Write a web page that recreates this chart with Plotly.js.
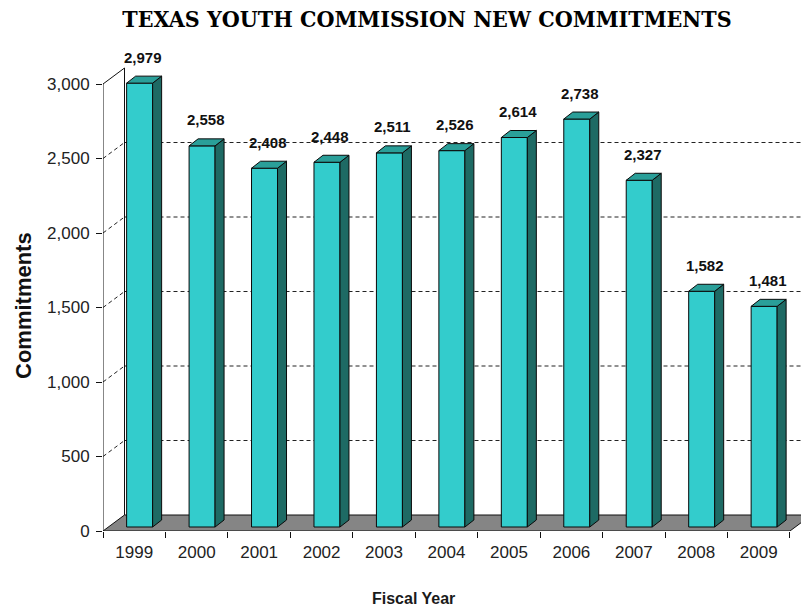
<!DOCTYPE html>
<html>
<head>
<meta charset="utf-8">
<script src="https://cdn.plot.ly/plotly-3.0.1.min.js"></script>
<style>html,body{margin:0;padding:0;background:#fff;}#chart{width:801px;height:609px;}</style>
</head>
<body>
<div id="chart"></div>
<script>
// ---- data ----
const years = ['1999','2000','2001','2002','2003','2004','2005','2006','2007','2008','2009'];
const commitments = [2979, 2558, 2408, 2448, 2511, 2526, 2614, 2738, 2327, 1582, 1481];
const yTickValues = [0, 500, 1000, 1500, 2000, 2500, 3000];
const gridValues = [500, 1000, 1500, 2000, 2500];
const axisMax = 3000;

// ---- geometry (pixel based, converted to data units) ----
const W = 62.45;        // px per category
const K = 0.149;        // px per value unit
const plotLeft = 103, plotRight = 801, plotTop = 40, plotBottom = 531;
const xMin = -0.5, xMax = -0.5 + (plotRight - plotLeft) / W;
const yMaxRange = (plotBottom - plotTop) / K;
const bx = 21.5 / W, by = 16 / K;     // back wall offset
const fx = 5.4 / W,  fy = 4 / K;      // bar front-face offset
const hw = 13 / W;                    // bar half width
const dx = 9 / W,    dy = 7 / K;      // bar depth

const n = years.length;
const idx = years.map((_, i) => i);
const boundaries = [];
for (let i = 0; i <= n; i++) boundaries.push(i - 0.5);

// front faces (bars)
const frontFaces = {
  type: 'bar', x: idx.map(i => i + fx), y: commitments, base: commitments.map(() => fy),
  width: 2 * hw, marker: {color: '#33CCCC', line: {color: '#0a0a0a', width: 1}},
  hoverinfo: 'skip', showlegend: false
};
// side and top faces
const sx = [], sy = [], tx = [], ty = [];
idx.forEach(i => {
  const l = i + fx - hw, r = i + fx + hw, b = fy, t = commitments[i] + fy;
  sx.push(r, r, r + dx, r + dx, r, null);
  sy.push(b, t, t + dy, b + dy, b, null);
  tx.push(l, r, r + dx, l + dx, l, null);
  ty.push(t, t, t + dy, t + dy, t, null);
});
const sideFaces = {type: 'scatter', mode: 'lines', x: sx, y: sy, fill: 'toself', fillcolor: '#1E6A64',
  line: {color: '#0a0a0a', width: 1}, hoverinfo: 'skip', showlegend: false, connectgaps: false};
const topFaces = {type: 'scatter', mode: 'lines', x: tx, y: ty, fill: 'toself', fillcolor: '#2A9F99',
  line: {color: '#0a0a0a', width: 1}, hoverinfo: 'skip', showlegend: false, connectgaps: false};
// invisible trace for boundary ticks axis
const tickHolder = {type: 'scatter', x: [xMin], y: [0], xaxis: 'x2', mode: 'markers',
  marker: {opacity: 0}, hoverinfo: 'skip', showlegend: false};

const shapes = [];
// floor
shapes.push({type: 'path', xref: 'x', yref: 'y', layer: 'below',
  path: `M ${xMin},0 L ${n - 0.5},0 L ${n - 0.5 + bx},${by} L ${xMin + bx},${by} Z`,
  fillcolor: '#858585', line: {color: '#111', width: 1}});
// gridlines on back wall + left wall
gridValues.forEach(g => {
  shapes.push({type: 'line', xref: 'x', yref: 'y', layer: 'below', x0: xMin + bx, x1: xMax + 1,
    y0: g + by, y1: g + by, line: {color: '#222', width: 1, dash: '4px,3px'}});
  shapes.push({type: 'line', xref: 'x', yref: 'y', layer: 'below', x0: xMin, x1: xMin + bx,
    y0: g, y1: g + by, line: {color: '#222', width: 1, dash: '4px,3px'}});
});
// back wall vertical, front axis vertical, top diagonal
shapes.push({type: 'line', xref: 'x', yref: 'y', layer: 'below', x0: xMin + bx, x1: xMin + bx,
  y0: by, y1: axisMax + by, line: {color: '#111', width: 1}});
shapes.push({type: 'line', xref: 'x', yref: 'y', layer: 'below', x0: xMin, x1: xMin,
  y0: 0, y1: axisMax, line: {color: '#111', width: 1}});
shapes.push({type: 'line', xref: 'x', yref: 'y', layer: 'below', x0: xMin, x1: xMin + bx,
  y0: axisMax, y1: axisMax + by, line: {color: '#111', width: 1}});

const annotations = idx.map(i => ({
  x: i + fx + 3.5 / W, y: commitments[i], xref: 'x', yref: 'y', yshift: 30,
  text: '<b>' + commitments[i].toLocaleString('en-US') + '</b>', showarrow: false,
  font: {family: 'Liberation Sans, Arial, sans-serif', size: 15, color: '#111'},
  xanchor: 'center', yanchor: 'middle'
}));
annotations.push({xref: 'paper', yref: 'paper', x: (24 - plotLeft) / (plotRight - plotLeft),
  y: (plotBottom - 306) / (plotBottom - plotTop), text: '<b>Commitments</b>', textangle: -90,
  showarrow: false, xanchor: 'center', yanchor: 'middle',
  font: {family: 'Liberation Sans, Arial, sans-serif', size: 22, color: '#111'}});
annotations.push({xref: 'paper', yref: 'paper', x: (413 - plotLeft) / (plotRight - plotLeft),
  y: (plotBottom - 598) / (plotBottom - plotTop), text: '<b>Fiscal Year</b>',
  showarrow: false, xanchor: 'center', yanchor: 'middle',
  font: {family: 'Liberation Sans, Arial, sans-serif', size: 16, color: '#1a1a1a'}});

const layout = {
  width: 801, height: 609,
  margin: {l: plotLeft, r: 801 - plotRight, t: plotTop, b: 609 - plotBottom, pad: 0},
  paper_bgcolor: '#fff', plot_bgcolor: '#fff',
  title: {text: '<b>TEXAS YOUTH COMMISSION NEW COMMITMENTS</b>', xref: 'container', yref: 'container',
    x: 427 / 801, y: 1 - 19 / 609, xanchor: 'center', yanchor: 'middle',
    font: {family: 'DejaVu Serif Condensed, DejaVu Serif, serif', size: 23, color: '#000'}},
  showlegend: false,
  xaxis: {range: [xMin, xMax], tickvals: idx, ticktext: years, ticks: 'outside', ticklen: 6,
    tickcolor: 'rgba(0,0,0,0)', showgrid: false, zeroline: false, showline: false, fixedrange: true,
    tickfont: {family: 'Liberation Sans, Arial, sans-serif', size: 17, color: '#222'}},
  xaxis2: {range: [xMin, xMax], overlaying: 'x', side: 'bottom', anchor: 'y',
    tickvals: boundaries, showticklabels: false,
    ticks: 'outside', ticklen: 6, tickcolor: '#111', tickwidth: 1, showgrid: false, zeroline: false, showline: false},
  yaxis: {range: [0, yMaxRange], tickvals: yTickValues, tickformat: ',d', ticks: 'outside', ticklen: 6,
    tickcolor: '#111', showgrid: false, zeroline: false, showline: false, ticklabelstandoff: 3,
    tickfont: {family: 'Liberation Sans, Arial, sans-serif', size: 17, color: '#222'}},
  shapes: shapes, annotations: annotations, bargap: 0
};

Plotly.newPlot('chart', [frontFaces, sideFaces, topFaces, tickHolder], layout, {displayModeBar: false, staticPlot: true});
</script>
</body>
</html>
